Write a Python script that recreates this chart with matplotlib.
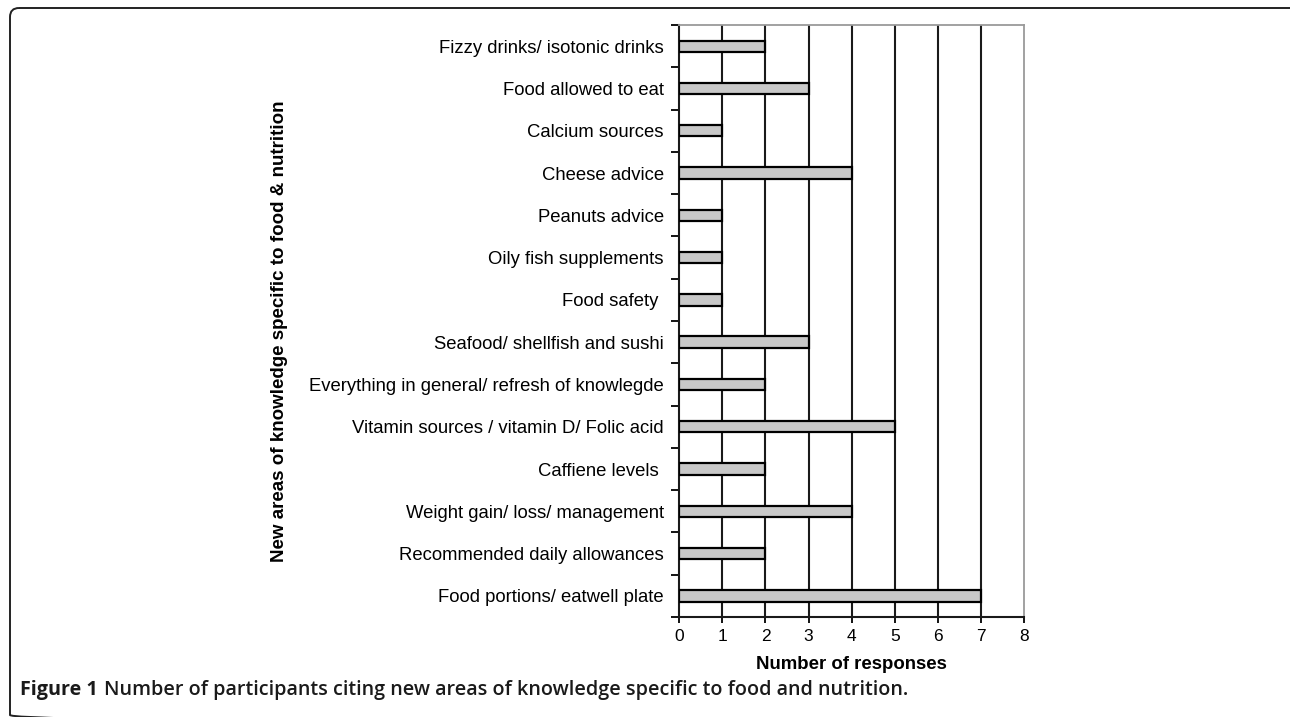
import matplotlib.pyplot as plt
from matplotlib.patches import FancyBboxPatch

# categories listed bottom to top, as drawn
categories = [
    "Food portions/ eatwell plate",
    "Recommended daily allowances",
    "Weight gain/ loss/ management",
    "Caffiene levels ",
    "Vitamin sources / vitamin D/ Folic acid",
    "Everything in general/ refresh of knowlegde",
    "Seafood/ shellfish and sushi",
    "Food safety ",
    "Oily fish supplements",
    "Peanuts advice",
    "Cheese advice",
    "Calcium sources",
    "Food allowed to eat",
    "Fizzy drinks/ isotonic drinks",
]
responses = [7, 2, 4, 2, 5, 2, 3, 1, 1, 1, 4, 1, 3, 2]
x_ticks = [0, 1, 2, 3, 4, 5, 6, 7, 8]

plt.rcParams['font.family'] = ['Liberation Sans', 'DejaVu Sans']

fig = plt.figure(figsize=(12.9, 7.17), dpi=100)

# background frame with rounded corners, drawn in pixel units
bg = fig.add_axes([0, 0, 1, 1])
bg.set_xlim(0, 1290)
bg.set_ylim(717, 0)
bg.axis('off')
frame = FancyBboxPatch((10, 8), 1300, 716,
                       boxstyle="round,pad=0,rounding_size=9",
                       fill=False, edgecolor='#222222', linewidth=1.4)
bg.add_patch(frame)

# caption: bold "Figure 1" followed by the rest
t1 = bg.text(20, 690, "Figure 1", fontsize=14.2, fontweight='bold',
             family='Open Sans', va='center', ha='left', color='#1a1a1a')
renderer = fig.canvas.get_renderer()
bb = t1.get_window_extent(renderer)
bg.text(bb.x1 + 6, 690,
        "Number of participants citing new areas of knowledge specific to food and nutrition.",
        fontsize=14.2, fontweight='semibold', family='Open Sans',
        va='center', ha='left', color='#1a1a1a')

ax = fig.add_axes([0.5265, 0.1395, 0.2675, 0.8255])
ypos = list(range(len(categories)))
ax.barh(ypos, responses, height=0.27, color='#c8c8c8',
        edgecolor='black', linewidth=1.6, zorder=3)

ax.set_xlim(0, 8)
ax.set_ylim(-0.5, len(categories) - 0.5)
ax.set_xticks(x_ticks)
ax.set_xticklabels([str(v) for v in x_ticks], fontsize=12.5)
ax.set_yticks(ypos)
ax.set_yticklabels(categories, fontsize=13.3)
ax.set_yticks([y - 0.5 for y in range(len(categories) + 1)], minor=True)
ax.tick_params(axis='y', which='major', length=0, pad=11)
ax.tick_params(axis='y', which='minor', length=6, width=1.3, direction='out')
ax.tick_params(axis='x', length=4, width=1.3, direction='out', pad=5)

for v in x_ticks[1:-1]:
    ax.axvline(v, color='#1a1a1a', linewidth=1.5, zorder=1)

ax.spines['left'].set_color('#1a1a1a')
ax.spines['left'].set_linewidth(1.5)
ax.spines['bottom'].set_color('#1a1a1a')
ax.spines['bottom'].set_linewidth(1.5)
ax.spines['top'].set_color('#9a9a9a')
ax.spines['top'].set_linewidth(1.3)
ax.spines['right'].set_color('#9a9a9a')
ax.spines['right'].set_linewidth(1.3)

ax.set_xlabel("Number of responses", fontsize=13.4, fontweight='bold', labelpad=8)
ax.set_ylabel("New areas of knowledge specific to food & nutrition",
              fontsize=13.5, fontweight='bold')
ax.yaxis.set_label_coords(-1.133, 0.483)

fig.savefig("out.png", dpi=100)
